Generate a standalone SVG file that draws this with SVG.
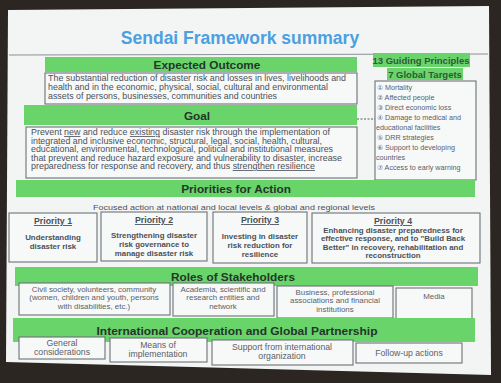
<svg xmlns="http://www.w3.org/2000/svg" width="501" height="383" viewBox="0 0 501 383">
<defs>
<style>
text{font-family:"Liberation Sans",Arial,sans-serif;fill:#3a3f44}
.bar{fill:#68d46a}
.hl{fill:#6ad46c}
.box{fill:#f7f9f9;stroke:#6c7276;stroke-width:1.1}
.bt{font-size:11.8px;font-weight:bold;fill:#25352a;text-anchor:middle}
.body{font-size:8.2px;fill:#4a5058}
.pt{font-size:8.8px;font-weight:bold;text-anchor:middle;text-decoration:underline;fill:#4a5058}
.pb{font-size:7.9px;font-weight:bold;text-anchor:middle;fill:#4a5058}
.st{font-size:7.9px;text-anchor:middle;fill:#5a6068}
.cb{font-size:8.7px;text-anchor:middle;fill:#5a6068}
.tg{font-size:7.2px;fill:#5a6068}
</style>
</defs>
<rect x="0" y="0" width="501" height="383" fill="#2b2622"/>
<polygon points="8,10 489,6 491,375 6,362" fill="#f3f5f5"/>
<text x="240" y="44" font-size="17.5" font-weight="bold" style="fill:#4c9fe0" text-anchor="middle">Sendai Framework summary</text>
<line x1="9" y1="55" x2="488" y2="54" stroke="#8a9094" stroke-width="1"/>

<g id="expected-outcome">
<rect class="bar" x="45" y="57" width="312" height="15"/>
<text class="bt" x="207" y="69">Expected Outcome</text>
<rect class="box" x="45" y="73" width="312" height="31"/>
<text class="body" x="48" y="81" textLength="298" lengthAdjust="spacingAndGlyphs">The substantial reduction of disaster risk and losses in lives, livelihoods and</text>
<text class="body" x="48" y="90" textLength="280" lengthAdjust="spacingAndGlyphs">health and in the economic, physical, social, cultural and environmental</text>
<text class="body" x="48" y="99" textLength="229" lengthAdjust="spacingAndGlyphs">assets of persons, businesses, communities and countries</text>
</g>

<g id="goal">
<rect class="bar" x="24" y="105" width="333" height="20"/>
<text class="bt" x="197" y="120">Goal</text>
<rect class="box" x="26" y="127" width="331" height="51"/>
<text class="body" x="31" y="135" textLength="299" lengthAdjust="spacingAndGlyphs">Prevent <tspan text-decoration="underline">new</tspan> and reduce <tspan text-decoration="underline">existing</tspan> disaster risk through the implementation of</text>
<text class="body" x="31" y="143.5" textLength="291" lengthAdjust="spacingAndGlyphs">integrated and inclusive economic, structural, legal, social, health, cultural,</text>
<text class="body" x="31" y="152" textLength="302" lengthAdjust="spacingAndGlyphs">educational, environmental, technological, political and institutional measures</text>
<text class="body" x="31" y="160.5" textLength="311" lengthAdjust="spacingAndGlyphs">that prevent and reduce hazard exposure and vulnerability to disaster, increase</text>
<text class="body" x="31" y="169" textLength="284" lengthAdjust="spacingAndGlyphs">preparedness for response and recovery, and thus <tspan text-decoration="underline">strengthen resilience</tspan></text>
</g>

<g id="principles-targets">
<rect class="hl" x="373" y="53" width="97" height="14"/>
<text x="421" y="64" font-size="9.5" font-weight="bold" text-anchor="middle" style="fill:#2e5a34">13 Guiding Principles</text>
<rect class="hl" x="387" y="68" width="76" height="12"/>
<text x="425" y="78" font-size="9.5" font-weight="bold" text-anchor="middle" style="fill:#2e5a34">7 Global Targets</text>
<rect class="box" x="375" y="81" width="101" height="99"/>
<text class="tg" x="377" y="90">① Mortality</text>
<text class="tg" x="377" y="100">② Affected people</text>
<text class="tg" x="377" y="110">③ Direct economic loss</text>
<text class="tg" x="377" y="120">④ Damage to medical and</text>
<text class="tg" x="376" y="130">educational facilities</text>
<text class="tg" x="377" y="140">⑤ DRR strategies</text>
<text class="tg" x="377" y="150">⑥ Support to developing</text>
<text class="tg" x="376" y="160">countries</text>
<text class="tg" x="377" y="170">⑦ Access to early warning</text>
</g>

<g id="connectors">
<line x1="357" y1="119" x2="375" y2="119" stroke="#555a5e" stroke-width="1" stroke-dasharray="2,1.5"/>
</g>

<g id="priorities">
<rect class="bar" x="16" y="180" width="459" height="17"/>
<text class="bt" x="236" y="193">Priorities for Action</text>
<text x="234" y="210" font-size="7.8" text-anchor="middle" style="fill:#4a5058" textLength="282" lengthAdjust="spacingAndGlyphs">Focused action at national and local levels &amp; global and regional levels</text>
</g>

<g id="priority-1">
<rect class="box" x="9" y="213" width="88" height="49"/>
<text class="pt" x="53" y="224">Priority 1</text>
<text class="pb" x="53" y="240">Understanding</text>
<text class="pb" x="53" y="249">disaster risk</text>
</g>
<g id="priority-2">
<rect class="box" x="101" y="212" width="106" height="49"/>
<text class="pt" x="154" y="223">Priority 2</text>
<text class="pb" x="154" y="238">Strengthening disaster</text>
<text class="pb" x="154" y="247">risk governance to</text>
<text class="pb" x="154" y="256">manage disaster risk</text>
</g>
<g id="priority-3">
<rect class="box" x="213" y="212" width="94" height="51"/>
<text class="pt" x="260" y="223">Priority 3</text>
<text class="pb" x="260" y="239">Investing in disaster</text>
<text class="pb" x="260" y="248">risk reduction for</text>
<text class="pb" x="260" y="257">resilience</text>
</g>
<g id="priority-4">
<rect class="box" x="312" y="213" width="168" height="50"/>
<text class="pt" x="393" y="224">Priority 4</text>
<text class="pb" x="393" y="232.5">Enhancing disaster preparedness for</text>
<text class="pb" x="393" y="241">effective response, and to "Build Back</text>
<text class="pb" x="393" y="249.5">Better" in recovery, rehabilitation and</text>
<text class="pb" x="393" y="258">reconstruction</text>
</g>

<g id="roles">
<rect class="bar" x="15" y="267" width="463" height="19"/>
<text class="bt" x="233" y="281">Roles of Stakeholders</text>
</g>
<g id="stakeholder-1">
<rect class="box" x="19" y="283" width="151" height="32"/>
<text class="st" x="94" y="291.5">Civil society, volunteers, community</text>
<text class="st" x="94" y="300">(women, children and youth, persons</text>
<text class="st" x="94" y="308.5">with disabilities, etc.)</text>
</g>
<g id="stakeholder-2">
<rect class="box" x="173" y="283" width="101" height="33"/>
<text class="st" x="223" y="291.5">Academia, scientific and</text>
<text class="st" x="223" y="300">research entities and</text>
<text class="st" x="223" y="308.5">network</text>
</g>
<g id="stakeholder-3">
<rect class="box" x="277" y="286" width="116" height="32"/>
<text class="st" x="335" y="294.5">Business, professional</text>
<text class="st" x="335" y="303">associations and financial</text>
<text class="st" x="335" y="311.5">institutions</text>
</g>
<g id="stakeholder-4">
<rect class="box" x="396" y="288" width="76" height="31"/>
<text class="st" x="434" y="299">Media</text>
</g>

<g id="international">
<rect class="bar" x="13" y="318" width="462" height="24"/>
<text class="bt" x="237" y="335" textLength="281" lengthAdjust="spacingAndGlyphs">International Cooperation and Global Partnership</text>
</g>
<g id="coop-1">
<rect class="box" x="19" y="337" width="86" height="22"/>
<text class="cb" x="62" y="345.5">General</text>
<text class="cb" x="62" y="354.5">considerations</text>
</g>
<g id="coop-2">
<rect class="box" x="110" y="338" width="97" height="24"/>
<text class="cb" x="158" y="347.5">Means of</text>
<text class="cb" x="158" y="356.5">implementation</text>
</g>
<g id="coop-3">
<rect class="box" x="212" y="340" width="141" height="25"/>
<text class="cb" x="282" y="350">Support from international</text>
<text class="cb" x="282" y="359">organization</text>
</g>
<g id="coop-4">
<rect class="box" x="356" y="343" width="106" height="20"/>
<text class="cb" x="409" y="356">Follow-up actions</text>
</g>
</svg>
